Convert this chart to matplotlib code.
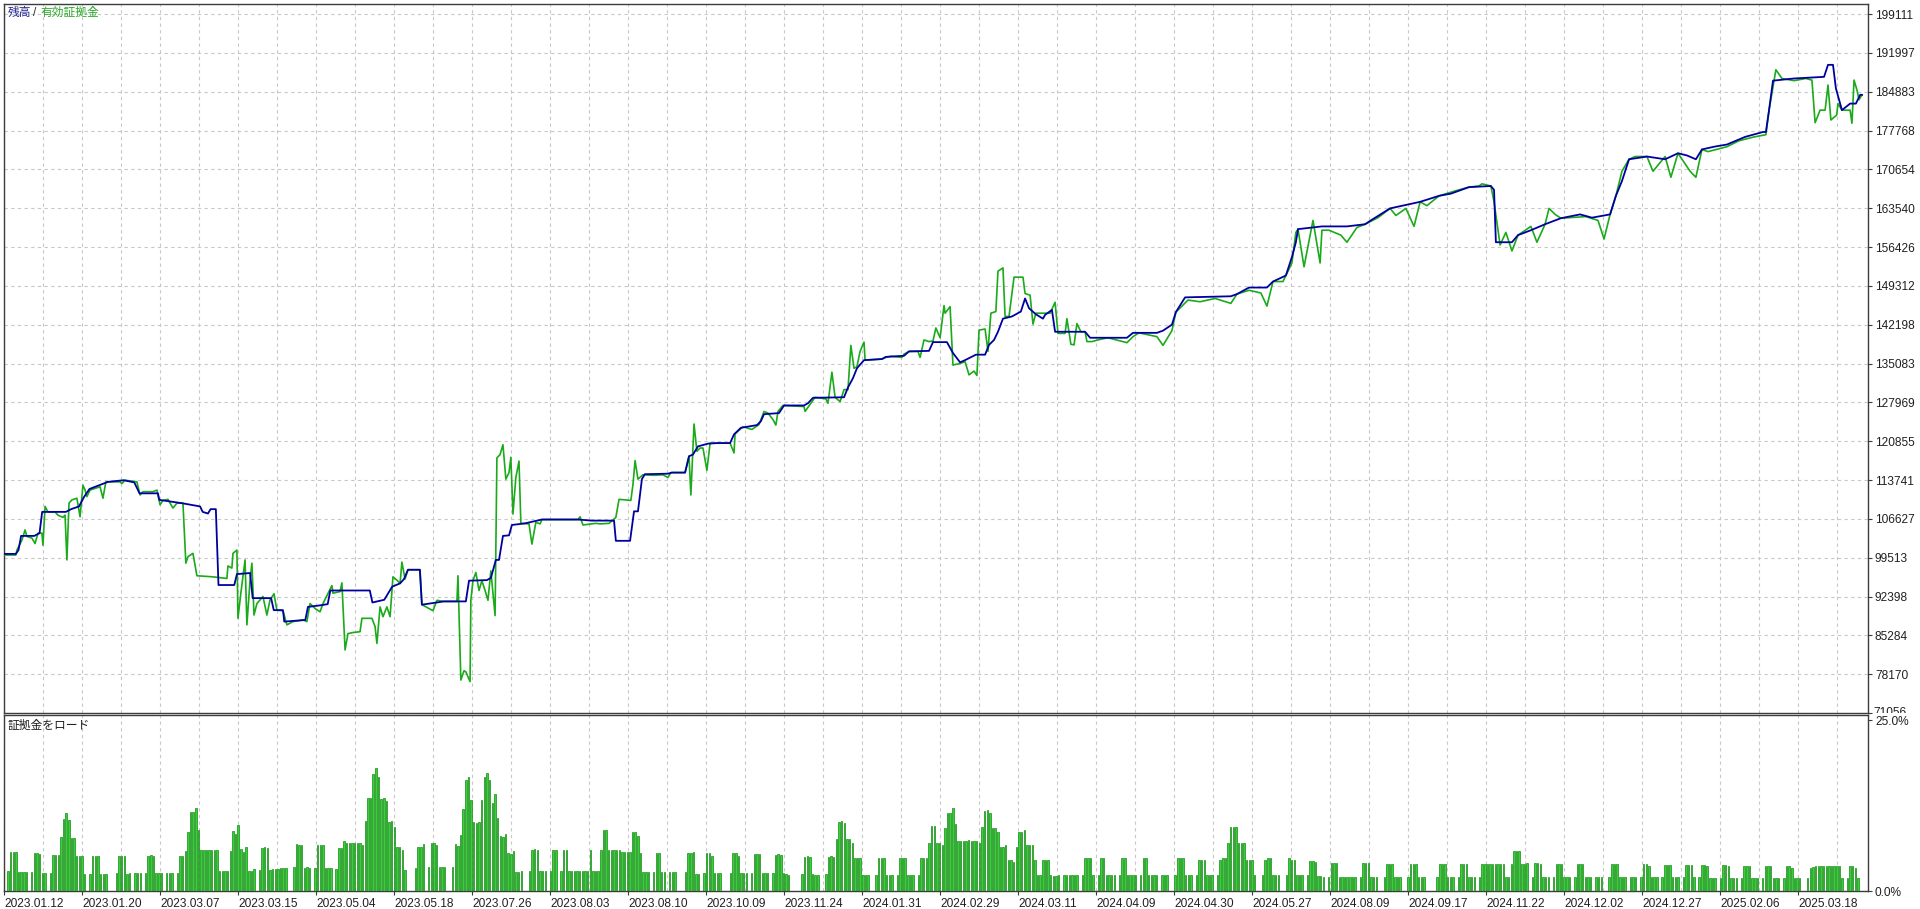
import numpy as np
import matplotlib
matplotlib.use('Agg')
import matplotlib.pyplot as plt
from matplotlib.transforms import Bbox, TransformedBbox, offset_copy

plt.rcParams['font.family'] = ['Liberation Sans', 'Noto Sans CJK JP']

# balance (deal number, value)
bal_deal = [-2, 3, 4, 5, 10, 12, 13, 22, 24, 27, 29, 31, 38, 44, 48, 50, 57, 57.5, 66, 73, 74, 76, 77, 79, 80, 86, 87, 92, 93,
            100, 101, 104.5, 105, 113, 114, 119, 121.5, 122.5, 137.5, 138.5, 143, 146, 149, 150.5, 152, 156.5, 157.3, 161.5,
            165.7, 174, 175.2, 182, 183.5, 185.4, 186.6, 188.1, 190.4, 191.5, 196.5, 202.9, 216.6, 221.9, 230.3, 231, 236.4,
            237.9, 239.4, 240.9, 242, 250.8, 252.3, 257.3, 258.8, 260.3, 262.2, 266, 269.4, 274.4, 275.9, 278.5, 284.6, 286.1,
            287.3, 293, 294.9, 302.5, 304, 305.9, 317.7, 319.2, 321.1, 322.6, 325.3, 332.1, 333.6, 340.5, 342.4, 350, 351.5,
            356.8, 359.1, 361.8, 363.7, 367.8, 371.3, 372.8, 374.7, 376.2, 378.1, 381.5, 384.9, 386.5, 388, 390.6, 393.3,
            394.1, 396.7, 397.9, 409.3, 411.2, 425.2, 427.5, 436.6, 438.9, 442.3, 443.8, 447.3, 464.7, 467, 471.6, 478.4,
            480.7, 485.6, 487.9, 489.4, 490.2, 499.3, 508.8, 515.7, 517.9, 525.2, 536.6, 539.2, 543.8, 548.3, 555.2, 563.5,
            564.7, 565.4, 571.5, 573.8, 578.7, 584.1, 590.1, 597.4, 601.9, 608.8, 611, 613.3, 616, 622.8, 629.7, 634.6, 638,
            641.4, 643.7, 648.3, 653.2, 660.1, 666.9, 668, 669.2, 670.7, 678.7, 686.7, 690.1, 691.6, 693.5, 694.6, 696.9,
            700, 702.2, 703.8, 704.5]
bal_value = [100200, 100200, 100900, 103500, 103500, 104000, 107900, 107900, 108400, 108900, 110700, 112100, 113400, 113700,
             113300, 111300, 111300, 110100, 109500, 108900, 107900, 107600, 108400, 108400, 94500, 94500, 96500, 96700, 92100,
             92100, 89900, 89900, 87800, 88100, 90500, 90800, 91000, 93500, 93500, 91300, 91800, 94200, 94800, 95600, 97300,
             97300, 90900, 91200, 91500, 91500, 95300, 95400, 95800, 99100, 99100, 103500, 103600, 105500, 105800, 106500,
             106500, 106300, 106300, 102600, 102600, 108000, 108000, 113900, 114800, 114900, 115100, 115100, 118100, 118400,
             119900, 120400, 120500, 120500, 122100, 123300, 123800, 124500, 125800, 126000, 127400, 127400, 127800, 128800,
             128900, 130700, 132400, 134200, 135700, 135900, 136300, 136500, 137300, 137400, 139000, 139000, 137000, 135300,
             135700, 136700, 136700, 138500, 139400, 140900, 143300, 143700, 144600, 147000, 145200, 144100, 143300, 144000,
             144900, 140900, 140900, 139800, 139800, 140700, 140700, 141100, 142200, 144500, 147200, 147400, 147800, 149000,
             149000, 150100, 151200, 154600, 157300, 159700, 160200, 160200, 160600, 161300, 163500, 164700, 165100, 165800,
             166200, 167400, 167600, 166900, 157300, 157300, 158600, 159500, 160600, 161700, 162400, 161800, 162400, 165800,
             168500, 172500, 173000, 172500, 173600, 173200, 172500, 174300, 174800, 175200, 176600, 177500, 177500, 181500,
             186900, 187300, 187500, 187600, 189800, 189800, 185500, 181500, 182700, 182700, 184300, 184300]

# equity (deal number, value)
eq_deal = [-2, 3, 3.4, 5.3, 6.5, 7.2, 9.1, 10.3, 11.4, 12.9, 13.3, 14.1, 15.2, 17.9, 19, 20.9, 21.7, 22.4, 23.2, 24.3, 26.2,
           27.4, 28.5, 29.3, 30, 31.2, 35, 36.1, 37.2, 42.6, 43.3, 44.5, 49, 50.2, 51.3, 55.1, 56.6, 57.8, 58.9, 60.8, 62.7,
           64.2, 66.5, 67.6, 68.4, 70.3, 71.8, 77.9, 79.8, 83.2, 83.6, 85.1, 85.5, 87, 87.4, 88.5, 89.3, 90.1, 90.8, 92, 92.7,
           93.5, 94.6, 96.9, 98.4, 99.6, 101.1, 102.2, 104.5, 106, 108.3, 112.1, 113.6, 114.8, 116.7, 118.6, 119.7, 123.1,
           123.5, 126.2, 126.9, 128.1, 129.2, 131.1, 133.8, 134.5, 138.3, 139.5, 140.2, 141.4, 142.5, 144, 145.2, 146.3,
           147.8, 149, 149.7, 150.9, 152, 156.6, 157.3, 161.5, 163, 165.7, 170.6, 171, 172.1, 173.3, 174, 175.6, 175.9, 176.7,
           177.8, 179, 180.1, 181.3, 182.4, 183.5, 185.1, 185.8, 187, 188.1, 189.2, 190.4, 191.1, 191.9, 193, 194.2, 194.9,
           198, 199.1, 200.6, 202.2, 202.9, 216.6, 217.4, 218.5, 223.4, 225, 228.4, 229.9, 231, 232.2, 236.7, 237.5, 238.3,
           239.4, 241.3, 245.5, 248.9, 250.8, 251.9, 257.3, 258.8, 259.5, 260.7, 261.8, 263, 264.1, 265.6, 266.8, 274.4,
           275.9, 276.3, 279.3, 282.7, 285.4, 287.3, 288.8, 290.7, 291.8, 292.6, 294.5, 302.5, 302.9, 305.1, 306.7, 310.8,
           311.6, 313.1, 314.3, 316.2, 317.7, 319.2, 320.3, 321.5, 322.6, 323.8, 325.3, 325.7, 332.1, 333.6, 335.5, 339.7,
           340.5, 342.4, 345.8, 346.6, 348.1, 350, 351.5, 352.6, 354.2, 355.7, 356.1, 358, 359.1, 361.8, 363.7, 365.2, 367.1,
           368.2, 369, 371.3, 372.4, 373.5, 375.4, 376.2, 378.1, 378.9, 380.4, 382.3, 385.7, 386.5, 388.4, 389.5, 390.6,
           393.3, 396, 397.9, 399, 401.7, 402.4, 403.9, 405.1, 406.2, 407.7, 409.3, 410, 411.9, 415, 418, 425.2, 427.5, 429.8,
           436.6, 438.9, 442.3, 443.8, 448.4, 453, 458.7, 464.7, 467, 471.6, 476.1, 478.4, 480.7, 484.5, 485.6, 487.9, 489.4,
           490.2, 492.5, 495.9, 498.6, 499.3, 502, 506.5, 508.8, 512.6, 515.7, 520.6, 525.2, 527.4, 531.2, 534.3, 536.6,
           539.2, 543.8, 549.9, 555.2, 559, 560.1, 563.5, 564.7, 567, 569.2, 571.5, 573.8, 578.7, 581, 584.1, 585.6, 587.9,
           590.1, 599.6, 604.2, 606.5, 608.8, 611, 613.3, 616, 618.3, 622.8, 625.1, 629.7, 631.9, 634.6, 639.2, 641.4, 643.7,
           646, 653.2, 657.8, 663.6, 668, 669.2, 671.8, 674.1, 678.7, 683.2, 685.5, 686.7, 688.6, 690.5, 691.6, 692.7, 694.9,
           695.4, 696.9, 700, 700.7, 701.5, 702.6, 703.4, 704.5]
eq_value = [100000, 100000, 100900, 102700, 104600, 103400, 103100, 102100, 104000, 104000, 101800, 108900, 107900, 107900,
            107300, 106900, 107300, 99100, 109500, 110100, 110400, 107000, 112800, 111900, 110700, 111900, 112500, 110400,
            113400, 113400, 113100, 113700, 113400, 111000, 111600, 111600, 111900, 109200, 110000, 110200, 108600, 109500,
            109500, 98500, 99700, 100300, 96200, 96000, 95900, 95700, 98000, 97600, 100300, 100900, 88400, 93000, 96000, 99100,
            87200, 95400, 98500, 89000, 91100, 92400, 89000, 91800, 92900, 89900, 89800, 87200, 87800, 88100, 87800, 91100,
            90200, 89600, 91100, 94400, 93000, 93300, 94900, 82600, 85600, 85800, 85950, 88400, 88400, 86900, 83800, 90500,
            88700, 90500, 88700, 96000, 95400, 94800, 98700, 95600, 97300, 97300, 90900, 89800, 91700, 91500, 91500, 96200,
            77100, 78800, 78600, 76800, 91700, 95300, 96800, 93500, 95300, 93500, 91700, 97100, 88900, 117800, 118400, 120200,
            113900, 115100, 117900, 107500, 114200, 117200, 105800, 105700, 102000, 106000, 105700, 106500, 106500, 107000,
            105500, 105800, 105700, 105800, 106400, 106900, 110200, 110000, 112900, 117300, 113900, 114700, 114600, 114700,
            114200, 115100, 115100, 118100, 111000, 124000, 119000, 119600, 119600, 115500, 120500, 120500, 118700, 122200,
            123500, 123000, 123900, 126300, 126000, 124800, 123800, 126300, 127400, 127200, 126300, 127800, 128900, 128600,
            127800, 133500, 128900, 128100, 130300, 130300, 138400, 134200, 134500, 137300, 139000, 135700, 135900, 136200,
            136400, 136200, 136800, 137300, 137300, 136200, 139400, 139100, 139200, 141600, 139800, 145700, 144300, 145500,
            134800, 135100, 135400, 133000, 133700, 132900, 141200, 141400, 137300, 144300, 144600, 152000, 152600, 143700,
            143700, 150900, 150900, 147900, 147600, 142300, 144300, 144300, 144300, 146300, 140600, 140600, 143300, 138600,
            138500, 142400, 140900, 140900, 139100, 139100, 139500, 139800, 138900, 140000, 140700, 140000, 138400, 141100,
            144500, 146700, 146400, 147000, 146100, 147800, 148500, 148000, 145600, 150100, 150100, 151200, 153500, 159100,
            159700, 152800, 161300, 153500, 159500, 159500, 158600, 157300, 160000, 160600, 161800, 163500, 162200, 163500,
            160200, 164700, 164000, 165800, 166700, 167400, 167600, 168000, 167600, 164700, 156800, 159100, 155700, 158600,
            160200, 157300, 160600, 163500, 162400, 161700, 162000, 161300, 157900, 162400, 165800, 170300, 172500, 173000,
            173000, 170300, 173000, 169200, 173600, 170300, 169200, 174300, 173900, 174800, 175900, 176600, 177000, 181500,
            188900, 187300, 186900, 187300, 187000, 179200, 181500, 181500, 186100, 179700, 180600, 182700, 181500, 181500,
            179100, 187000, 185200, 183400, 184300]

# margin load, % (one bar per deal)
load_2023a = [2.9, 5.7, 5.7, 5.7, 2.8, 2.8, 2.8, 2.8, 0, 2.8, 5.5, 5.5, 5.4, 2.7, 2.6,
              0, 2.6, 5.3, 5.3, 5.3, 7.9, 10.6, 11.4, 10.4, 7.7, 7.7, 5.1, 5.2, 5.1,
              2.5, 0, 2.5, 5.1, 5.1, 5.1, 2.5, 2.5, 2.5, 0, 0, 0, 2.6, 5.2, 5.2, 5.1,
              2.5, 2.6, 0, 2.6, 2.6, 2.6, 0, 2.6, 5.2, 5.3, 5.2, 2.6, 2.6, 2.6,
              0, 2.6, 2.6, 2.7, 0, 2.6, 5.2, 5.2, 5.9, 8.7, 11.6, 11.6, 12.1, 9.0,
              6.0, 6.0, 6.0, 6.0, 6.0, 6.0, 6.0, 3.0, 3.0, 2.9, 2.9, 5.9, 8.8, 8.4, 9.7,
              6.1, 5.7, 6.5, 2.9, 2.9, 3.2, 0, 3.1, 6.3, 6.5, 6.3, 3.1, 3.2, 3.2,
              3.2, 3.3, 3.4, 3.4, 0, 0, 3.5, 6.9, 6.8, 6.8, 3.4, 3.5, 3.3, 0, 3.4, 6.7, 6.7, 6.7,
              3.4, 3.4, 3.3, 0, 3.2, 6.3, 6.3, 7.4, 7.0, 7.0, 7.0, 7.0, 7.0, 7.0, 6.7,
              10.2, 13.7, 13.7, 17.2, 18.0, 16.7, 13.5, 13.7, 13.2, 10.1, 10.2, 9.4, 6.4, 6.4, 6.0, 3.1,
              0, 0, 0, 3.3, 6.4, 6.4, 6.9, 0, 3.5, 7.0, 7.0, 6.8, 3.5, 3.5, 3.5, 0, 0, 3.5, 6.9, 6.6, 8.2, 12.0]
load_2023b = [16.2, 16.7, 13.4, 10.1, 9.9, 10.1, 13.3, 16.7, 17.3, 16.3, 12.9, 14.2, 10.7, 8.0, 7.9, 8.3, 5.5, 5.4, 5.9,
              2.8, 2.8, 3.0, 0, 0, 3.0, 6.0, 6.2, 6.0, 3.0, 3.0, 3.0, 0, 3.0, 6.0, 6.0, 0, 3.0, 6.0, 6.0, 3.0, 3.0, 3.0,
              3.0, 3.0, 3.0, 3.0, 3.0, 6.0, 3.0, 3.0, 3.0, 6.0, 9.0, 9.0, 6.0, 6.0, 6.0, 6.0, 6.0, 5.7, 5.7, 5.7, 5.7,
              8.6, 8.6, 8.0, 5.6, 2.8, 2.8, 2.8, 0, 2.8, 5.6, 5.6, 2.8, 2.8, 0, 2.8, 2.8, 2.8, 0, 0, 0, 2.8, 5.6, 5.5,
              5.7, 2.5, 2.5, 0, 2.7, 5.5, 5.5, 5.2, 2.7, 2.7, 2.7, 0, 0, 0, 2.7, 5.5, 5.5, 5.2, 2.7, 2.7, 2.7, 0, 2.7,
              5.4, 5.4, 5.4, 2.7, 2.7, 2.7, 0, 2.7, 5.3, 5.4, 5.3, 2.7, 2.5, 2.4, 0, 0, 0, 0, 2.5, 5.0, 5.1, 5.0, 2.5,
              2.4, 2.4, 0, 0, 2.5, 5.0, 5.1, 5.0, 7.6, 10.1, 10.2, 10.0, 7.6, 7.6, 7.0, 4.9, 4.9, 4.9, 2.3, 2.3, 2.3,
              0, 0, 2.3, 4.8, 4.9, 4.8, 2.3, 2.3, 2.3, 0, 2.3, 4.8, 4.8, 4.8, 2.3, 2.3, 2.3, 0, 2.3, 4.8, 4.9, 4.8,
              7.1, 9.5, 9.5]
load_2024a = [7.1, 7.1, 6.8, 9.2, 11.4, 11.4, 12.2, 9.8, 7.4, 7.4, 7.4, 7.3, 7.5, 7.4, 7.4, 7.4, 7.1, 9.4, 11.7, 11.9,
              11.4, 9.2, 9.2, 8.7, 6.5, 6.5, 6.8, 4.5, 4.5, 4.2, 6.5, 8.7, 8.7, 8.9, 6.7, 6.7, 6.8, 4.5, 2.3, 2.3, 4.5,
              4.5, 4.5, 2.3, 2.2, 2.2, 2.3, 0, 2.3, 2.3, 2.3, 2.4, 2.3, 2.3, 0, 2.4, 4.8, 4.8, 4.8, 2.4, 0, 2.4, 4.8,
              4.8, 2.4, 2.4, 2.4, 2.4, 0, 2.4, 4.8, 4.8, 2.4, 2.4, 2.4, 2.4, 0, 2.4, 4.8, 4.8, 2.4, 2.3, 2.3, 2.3, 0,
              2.3, 2.3, 2.3, 0, 0, 2.4, 4.8, 4.8, 4.8, 2.4, 2.4, 2.3, 0, 2.3, 4.6, 4.6, 4.6, 2.3, 2.3, 2.3, 0, 2.3,
              4.6, 4.8, 4.8, 7.1, 9.4, 9.4, 9.4, 7.0, 7.0, 7.0, 4.6, 4.6, 4.6, 2.3, 0, 0, 2.3, 4.6, 4.8, 4.8, 2.3,
              2.3, 2.3, 0, 0, 2.3, 4.8, 4.6, 4.6, 2.3, 2.3, 2.3, 0, 2.3, 4.4, 4.4, 4.3, 2.2, 2.2, 2.0, 0, 2.0, 4.1,
              4.1, 4.1, 2.0, 2.0, 2.0, 2.0, 2.0, 2.0, 2.0, 0, 2.0, 4.1, 4.1, 4.1, 2.0, 2.0, 2.0, 0, 0, 2.0, 4.0, 4.0,
              4.0, 2.0, 2.0, 2.0]
load_2024b = [0, 0, 2.0, 3.9, 4.0, 3.9, 2.0, 2.0, 2.0, 0, 0, 0, 0, 2.0, 4.0, 4.0, 4.0, 2.0, 2.0, 2.0, 0, 2.0, 4.0, 4.0,
              3.9, 2.0, 2.0, 2.0, 0, 2.0, 3.9, 3.9, 3.9, 3.9, 3.9, 3.9, 3.9, 3.9, 3.9, 2.0, 2.0, 3.9, 5.9, 5.9, 5.9, 3.9,
              3.9, 4.1, 0, 2.0, 4.1, 4.1, 4.0, 2.0, 2.0, 2.0, 0, 2.0, 4.0, 4.0, 3.9, 2.0, 2.0, 2.0, 0, 2.0, 3.9, 3.9,
              3.9, 2.0, 2.0, 2.0, 0, 2.0, 2.0, 2.0, 0, 0, 2.0, 4.0, 4.0, 4.0, 2.0, 2.0, 2.0, 0, 2.0, 2.0, 2.0, 0, 2.0,
              4.0, 4.0, 3.7, 2.0, 2.0, 2.0, 0, 2.0, 3.8, 3.8, 3.8, 2.0, 2.0, 2.0, 0, 2.0, 3.8, 3.8, 3.8, 2.0, 0, 2.0,
              3.8, 3.8, 3.7, 1.9, 1.9, 1.9, 0, 1.9, 3.8, 3.8, 3.7, 1.9, 1.9, 1.9, 0, 1.9, 3.7, 3.7, 3.7, 1.9, 1.9, 1.9,
              0, 1.9, 3.6, 3.6, 3.6, 1.9, 1.9, 1.9, 0, 1.9, 3.6, 3.6, 3.4, 1.9, 1.9, 1.9, 0, 0, 1.9, 3.4, 3.5, 3.7,
              3.7, 3.7, 3.7, 3.6, 3.6, 3.7, 3.6, 3.6, 3.6, 1.9, 0, 1.9, 3.7, 3.7, 3.4, 1.9]

date_labels = ["2023.01.12", "2023.01.20", "2023.03.07", "2023.03.15", "2023.05.04", "2023.05.18", "2023.07.26",
               "2023.08.03", "2023.08.10", "2023.10.09", "2023.11.24", "2024.01.31", "2024.02.29", "2024.03.11",
               "2024.04.09", "2024.04.30", "2024.05.27", "2024.08.09", "2024.09.17", "2024.11.22", "2024.12.02",
               "2024.12.27", "2025.02.06", "2025.03.18"]
value_ticks = [71056, 78170, 85284, 92398, 99513, 106627, 113741, 120855, 127969, 135083, 142198, 149312, 156426,
               163540, 170654, 177768, 184883, 191997, 199111]

W, H = 1920, 909
fig = plt.figure(figsize=(W / 100, H / 100), dpi=100)
ax = fig.add_axes([4 / W, 1 - 713 / H, 1864 / W, 709 / H])
axb = fig.add_axes([4 / W, 1 - 891 / H, 1864 / W, 176 / H])

grid_color = '#c8c8c8'
frame_color = '#3c3c3c'
label_size = 8.6
xmin, xmax = -1.5, 706.8
grid_x = xmin + np.arange(48) * 14.82

# main panel
ax.plot(eq_deal, eq_value, color='#1aaa1a', lw=1.2, zorder=3)
ax.plot(bal_deal, bal_value, color='#0000a0', lw=1.3, zorder=4)
ax.set_xlim(xmin, xmax)
ax.set_ylim(71056, 200945)
ax.set_xticks(grid_x)
ax.set_xticklabels([])
ax.tick_params(axis='x', length=0)
ax.yaxis.tick_right()
ax.set_yticks(value_ticks)
ax.set_yticklabels([''] + [str(v) for v in value_ticks[1:]])
ax.tick_params(axis='y', length=3, width=0.8, pad=2, labelsize=label_size, color=frame_color, labelcolor='#202020')
ax.grid(True, color=grid_color, linestyle=(0, (3, 3)), linewidth=0.8)
ax.set_axisbelow(True)
for s in ax.spines.values():
    s.set_color(frame_color)
    s.set_linewidth(1.0)

# bottom value, cut off by the lower panel
t = ax.text(1.0, 71056, '71056', transform=offset_copy(ax.get_yaxis_transform(), fig, x=5, y=0, units='dots'),
            ha='left', va='center', fontsize=label_size, color='#202020')
t.set_clip_box(TransformedBbox(Bbox([[0, 0], [1.05, 1]]), ax.transAxes))
t.set_clip_on(True)

fig.text(8 / W, 1 - 13 / H, '残高', color='#23238f', fontsize=8.5, va='center', ha='left')
fig.text(33 / W, 1 - 13 / H, '/', color='#303030', fontsize=8.5, va='center', ha='left')
fig.text(41 / W, 1 - 13 / H, '有効証拠金', color='#2aa82a', fontsize=8.5, va='center', ha='left')

# margin load panel
loads = load_2023a + load_2023b + load_2024a + load_2024b
pos = np.linspace(0, 703, len(loads))
axb.bar(pos, loads, width=0.55, color='#38d038', edgecolor='#108c10', linewidth=0.5, zorder=3)
axb.set_xlim(xmin, xmax)
axb.set_ylim(0, 25.8)
axb.set_xticks(grid_x[::2])
axb.set_xticklabels(date_labels, ha='left')
axb.set_xticks(grid_x[1::2], minor=True)
axb.tick_params(axis='x', which='major', length=3, width=0.8, pad=2, labelsize=label_size, color=frame_color,
                labelcolor='#202020')
axb.tick_params(axis='x', which='minor', length=0)
axb.yaxis.tick_right()
axb.set_yticks([0, 25])
axb.set_yticklabels(['0.0%', '25.0%'])
axb.tick_params(axis='y', length=3, width=0.8, pad=2, labelsize=label_size, color=frame_color, labelcolor='#202020')
axb.grid(True, axis='x', which='both', color=grid_color, linestyle=(0, (3, 3)), linewidth=0.8)
axb.set_axisbelow(True)
for s in axb.spines.values():
    s.set_color(frame_color)
    s.set_linewidth(1.0)
axb.text(0.002, 0.94, '証拠金をロード', transform=axb.transAxes, fontsize=8.5,
         color='#202020', ha='left', va='center')

fig.savefig('out.png', dpi=100, facecolor='white')
